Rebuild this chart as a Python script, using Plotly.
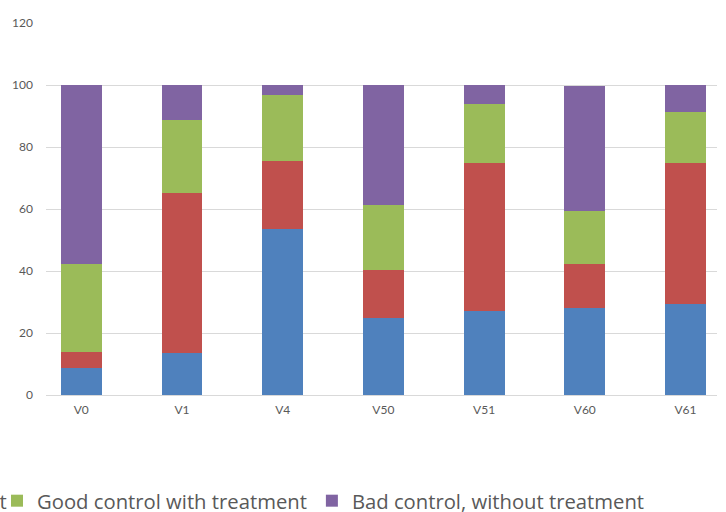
import plotly.graph_objects as go

# Visits on the category axis
visits = ["V0", "V1", "V4", "V50", "V51", "V60", "V61"]

# Share of patients (%) in each control group per visit
good_no_treatment = [8.8, 13.6, 53.7, 24.9, 27.0, 28.0, 29.3]
bad_with_treatment = [5.1, 51.6, 21.8, 15.3, 47.8, 14.3, 45.5]
good_with_treatment = [28.4, 23.6, 21.4, 21.0, 19.0, 17.2, 16.4]
bad_no_treatment = [57.7, 11.2, 3.1, 38.8, 6.2, 40.1, 8.8]

y_ticks = [0, 20, 40, 60, 80, 100, 120]

series = [
    ("Good control without treatment", good_no_treatment, "#4F81BD", "legend2"),
    ("Bad control with treatment", bad_with_treatment, "#C0504D", "legend2"),
    ("Good control with treatment", good_with_treatment, "#9BBB59", "legend"),
    ("Bad control, without treatment", bad_no_treatment, "#8064A2", "legend"),
]

fig = go.Figure()
for name, values, color, leg in series:
    fig.add_trace(go.Bar(
        x=visits, y=values, name=name, legend=leg,
        marker=dict(color=color, line=dict(width=0)),
    ))

legend_font = dict(family="Open Sans", size=20.25, color="#595959")

# The legend runs wider than the page: its first entries sit past the left edge.
fig.update_layout(
    width=726, height=512,
    barmode="stack",
    bargap=0.593,
    plot_bgcolor="white",
    paper_bgcolor="white",
    margin=dict(l=46, r=9, t=23, b=117, pad=0, autoexpand=False),
    font=dict(family="Lato", size=12, color="#595959"),
    xaxis=dict(
        range=[-0.3505, 6.313],
        showgrid=False, showline=False, zeroline=False,
        ticks="", tickfont=dict(size=12, color="#595959"),
        ticklabelstandoff=6,
    ),
    yaxis=dict(
        range=[0, 120], tickvals=y_ticks,
        showgrid=True, gridcolor="#D9D9D9", gridwidth=1.3,
        zeroline=True, zerolinecolor="#D9D9D9", zerolinewidth=1.3,
        showline=False, ticks="",
        tickfont=dict(size=12, color="#595959"),
        ticklabelstandoff=12,
    ),
    legend=dict(
        orientation="h", x=-0.073, xanchor="left", y=-0.285, yanchor="middle",
        font=legend_font, traceorder="normal",
        bgcolor="rgba(0,0,0,0)", itemclick=False,
    ),
    legend2=dict(
        orientation="h", x=-1.0149, xanchor="left", y=-0.285, yanchor="middle",
        font=legend_font, traceorder="normal",
        bgcolor="rgba(0,0,0,0)", itemclick=False,
    ),
)

fig.write_html("out.html")
